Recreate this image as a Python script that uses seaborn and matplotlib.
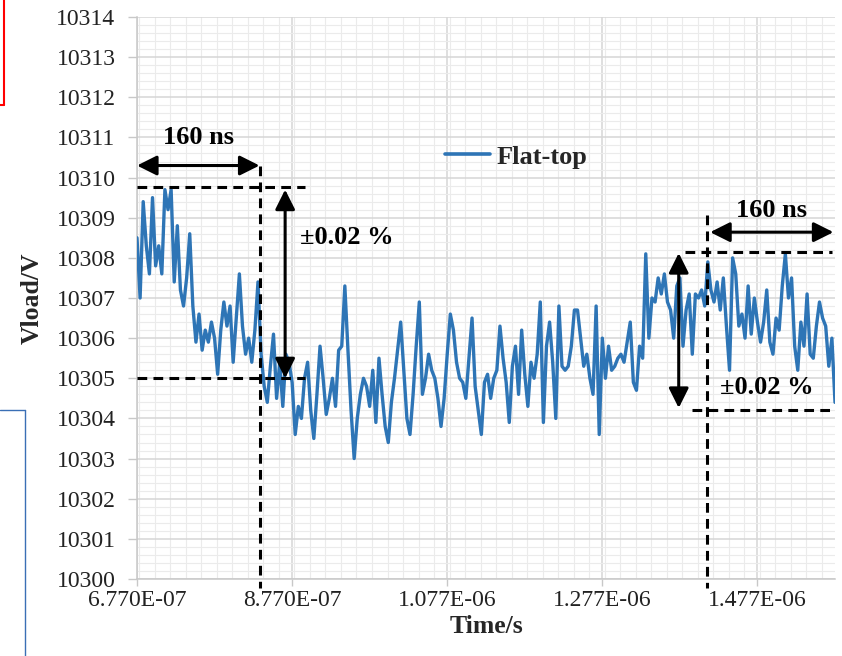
import numpy as np
import pandas as pd
import matplotlib
matplotlib.use("Agg")
import matplotlib.pyplot as plt
import seaborn as sns
from matplotlib.ticker import MultipleLocator, FuncFormatter
from matplotlib.lines import Line2D

# ---------------- data ----------------
t_start_ns = 677
t_step_ns = 4
vload = [
    10308.5, 10307.0, 10309.4, 10308.3, 10307.6, 10309.5, 10307.8, 10308.3, 10307.6, 10309.7,
    10309.2, 10309.7, 10307.4, 10308.8, 10307.2, 10306.8, 10307.5, 10308.6, 10306.8, 10305.9,
    10306.6, 10305.7, 10306.2, 10305.9, 10306.4, 10306.0, 10305.1, 10306.2, 10306.9, 10306.3,
    10306.8, 10305.4, 10306.5, 10307.6, 10306.3, 10305.6, 10306.0, 10305.4, 10306.2, 10307.4,
    10305.6, 10304.8, 10304.4, 10305.3, 10306.1, 10304.5, 10305.4, 10304.3, 10305.6, 10305.4,
    10304.9, 10303.6, 10304.3, 10304.0, 10305.0, 10305.4, 10304.2, 10303.5, 10304.6, 10305.8,
    10305.0, 10304.1, 10304.5, 10305.0, 10304.3, 10305.7, 10305.8, 10307.3, 10305.7, 10304.2,
    10303.0, 10304.0, 10304.6, 10305.0, 10304.8, 10304.3, 10305.2, 10303.9, 10305.5, 10304.6,
    10303.8, 10303.4, 10304.4, 10305.0, 10305.7, 10306.4, 10305.2, 10304.0, 10303.6, 10304.6,
    10305.8, 10306.9, 10304.6, 10305.0, 10305.6, 10305.2, 10305.0, 10304.5, 10303.8, 10304.5,
    10305.6, 10306.6, 10306.2, 10305.4, 10305.0, 10304.9, 10304.5, 10305.5, 10306.5, 10304.8,
    10304.2, 10303.6, 10304.9, 10305.1, 10304.5, 10305.0, 10305.2, 10306.3, 10305.5, 10304.9,
    10303.9, 10305.3, 10305.8, 10304.6, 10306.2, 10305.1, 10304.3, 10305.4, 10305.0, 10305.6,
    10306.9, 10303.9, 10305.8, 10306.4, 10305.4, 10304.0, 10306.8, 10305.3, 10305.2, 10305.3,
    10305.8, 10306.7, 10306.7, 10306.0, 10305.3, 10305.6, 10305.0, 10304.6, 10306.8, 10303.6,
    10306.0, 10305.0, 10305.8, 10305.2, 10305.3, 10305.5, 10305.6, 10305.4, 10305.9, 10306.4,
    10304.9, 10304.7, 10305.8, 10305.5, 10308.1, 10306.0, 10307.0, 10306.9, 10307.5, 10307.1,
    10307.6, 10306.9, 10306.7, 10306.0, 10307.3, 10307.5, 10305.8, 10306.7, 10307.1, 10305.6,
    10307.1, 10307.0, 10307.2, 10306.8, 10307.9, 10307.2, 10306.9, 10307.4, 10306.7, 10307.5,
    10306.3, 10305.2, 10308.0, 10307.6, 10306.3, 10306.6, 10306.0, 10307.3, 10306.1, 10307.0,
    10306.4, 10305.9, 10306.4, 10307.2, 10305.9, 10305.6, 10306.5, 10306.2, 10307.3, 10308.1,
    10307.0, 10307.5, 10305.8, 10305.2, 10306.4, 10305.8, 10307.1, 10305.6, 10305.5, 10306.3,
    10306.9, 10306.5, 10306.3, 10305.3, 10306.0, 10304.4,
]
series_label = "Flat-top"
x_ticks_ns = [677, 877, 1077, 1277, 1477]
x_lim_ns = [677, 1577]
y_lim = [10300, 10314]
x_label = "Time/s"
y_label = "Vload/V"

time_s = (t_start_ns + t_step_ns * np.arange(len(vload))) * 1e-9
df = pd.DataFrame({"time": time_s, "vload": vload})

# ---------------- style ----------------
sns.set_style("white")
plt.rcParams["font.family"] = ["Liberation Serif", "DejaVu Serif"]
plt.rcParams["lines.scale_dashes"] = False

fig = plt.figure(figsize=(8.42, 6.56), dpi=100)
ax = fig.add_axes([137 / 842, 1 - 579 / 656, (835 - 137) / 842, (579 - 17) / 656])

line_color = "#2E75B6"
sns.lineplot(data=df, x="time", y="vload", ax=ax, color=line_color, lw=2.4,
             label=series_label, zorder=3)

ax.set_xlim(x_lim_ns[0] * 1e-9, x_lim_ns[1] * 1e-9)
ax.set_ylim(*y_lim)
ax.set_xticks([v * 1e-9 for v in x_ticks_ns])
ax.xaxis.set_major_formatter(FuncFormatter(lambda v, p: "{:.3E}".format(v)))
ax.xaxis.set_minor_locator(MultipleLocator(20e-9))
ax.yaxis.set_major_locator(MultipleLocator(1))
ax.yaxis.set_minor_locator(MultipleLocator(0.2))
ax.yaxis.set_major_formatter(FuncFormatter(lambda v, p: "%d" % round(v)))

ax.grid(which="major", color="#d6d6d6", lw=1.1, zorder=0)
ax.grid(which="minor", color="#ebebeb", lw=0.8, zorder=0)
ax.set_axisbelow(True)
for s in ["top", "right"]:
    ax.spines[s].set_visible(False)
for s in ["left", "bottom"]:
    ax.spines[s].set_color("#c8c8c8")
    ax.spines[s].set_linewidth(1.1)

ax.tick_params(axis="y", which="major", direction="out", length=6.5, width=1.0,
               color="#c8c8c8", pad=9, labelsize=17, left=True)
ax.tick_params(axis="x", which="major", direction="out", length=5, width=1.0,
               color="#c8c8c8", pad=3, labelsize=17, bottom=True)
ax.tick_params(which="minor", length=0)
for lab in ax.get_xticklabels() + ax.get_yticklabels():
    lab.set_color("#222222")

ax.set_xlabel(x_label, fontsize=18.5, fontweight="bold", labelpad=3)
ax.set_ylabel(y_label, fontsize=18.5, fontweight="bold", labelpad=9)

leg = ax.legend(loc="center left", bbox_to_anchor=((445 - 137) / 698, (579 - 157) / 562),
                frameon=False, handlelength=1.7, handletextpad=0.25, borderpad=0,
                borderaxespad=0, prop={"family": "Liberation Serif", "weight": "bold", "size": 19})
for h in leg.legend_handles:
    h.set_linewidth(2.6)

# ---------------- annotations ----------------
ns = 1e-9
dash = (0, (7, 4.5))
dkw = dict(color="black", lw=2.2, linestyle=dash, clip_on=False, zorder=4)
akw = dict(arrowstyle="<|-|>", color="black", lw=2.2, mutation_scale=30,
           shrinkA=0, shrinkB=0)
tkw = dict(fontsize=19, fontweight="bold", color="black", zorder=5)

# left window
ax.annotate("", xy=(677 * ns, 10310.3), xytext=(835 * ns, 10310.3), arrowprops=akw,
            annotation_clip=False)
ax.text(756 * ns, 10311.0, "160 ns", ha="center", va="center", **tkw)
ax.plot([677 * ns, 893 * ns], [10309.76, 10309.76], **dkw)
ax.plot([677 * ns, 893 * ns], [10305.0, 10305.0], **dkw)
ax.plot([835 * ns, 835 * ns], [10310.3, 10299.78], **dkw)
ax.annotate("", xy=(868 * ns, 10309.7), xytext=(868 * ns, 10305.0), arrowprops=akw)
ax.text(887 * ns, 10308.5, "\u00b10.02 %", ha="left", va="center", **tkw)

# right window
ax.annotate("", xy=(1416 * ns, 10308.64), xytext=(1575 * ns, 10308.64), arrowprops=akw,
            annotation_clip=False)
ax.text(1495 * ns, 10309.19, "160 ns", ha="center", va="center", **tkw)
ax.plot([1383 * ns, 1573 * ns], [10308.15, 10308.15], **dkw)
ax.plot([1392 * ns, 1577 * ns], [10304.21, 10304.21], **dkw)
ax.plot([1411.6 * ns, 1411.6 * ns], [10309.07, 10299.78], **dkw)
ax.annotate("", xy=(1375.5 * ns, 10308.12), xytext=(1375.5 * ns, 10304.26), arrowprops=akw)
ax.text(1489 * ns, 10304.76, "\u00b10.02 %", ha="center", va="center", **tkw)

# frame fragments visible at the left of the reference
W, H = 842, 656
fig.add_artist(Line2D([4 / W, 4 / W], [1, 1 - 105 / H], color="red", lw=1.5))
fig.add_artist(Line2D([0, 4 / W], [1 - 105 / H, 1 - 105 / H], color="red", lw=1.5))
fig.add_artist(Line2D([0, 25 / W], [1 - 410 / H, 1 - 410 / H], color="#3a6fb5", lw=1.0))
fig.add_artist(Line2D([25 / W, 25 / W], [1 - 410 / H, 0], color="#3a6fb5", lw=1.0))

fig.savefig("out.png", dpi=100)
